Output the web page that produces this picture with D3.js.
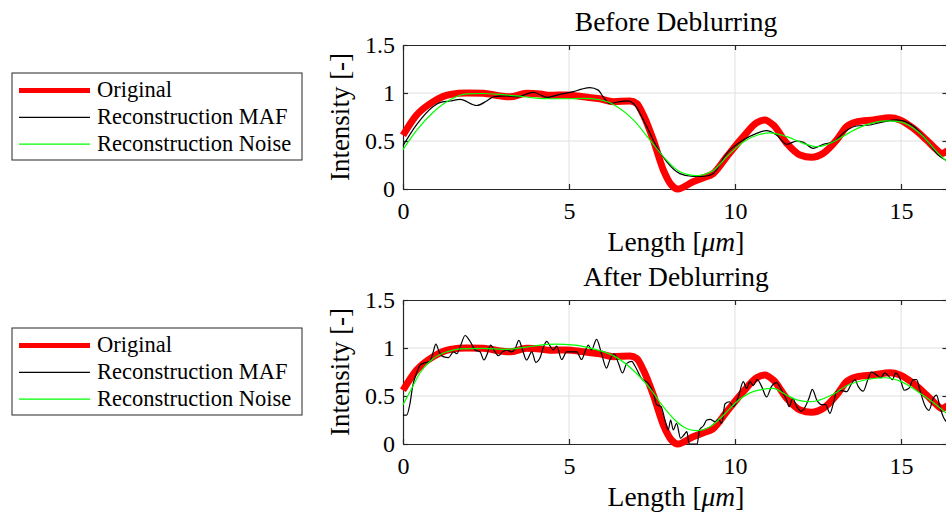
<!DOCTYPE html>
<html>
<head>
<meta charset="utf-8">
<script src="https://cdn.jsdelivr.net/npm/d3@7"></script>
<style>
  body { margin: 0; background: #fff; }
  svg { display: block; }
  text { font-family: "Liberation Serif", "Times New Roman", serif; fill: #000; }
</style>
</head>
<body>
<div id="chart"></div>
<script>
// intensity profiles, x in micrometres
var origX = [0, 0.41, 0.91, 1.42, 1.92, 2.42, 2.92, 3.22, 3.72, 4.13, 4.43, 4.93, 5.43, 5.93, 6.33, 6.84, 7.04, 7.24, 7.54, 7.84, 8.09, 8.27, 8.74, 9.05, 9.34, 9.75, 10.25, 10.65, 10.9, 11.15, 11.56, 11.96, 12.3, 12.66, 13.06, 13.36, 13.66, 14.17, 14.67, 14.97, 15.37, 15.77, 16.07, 16.22, 16.4];
var origY = [0.56, 0.77, 0.91, 0.985, 1.0, 0.997, 0.97, 0.96, 0.997, 0.99, 0.976, 0.98, 0.96, 0.94, 0.91, 0.917, 0.89, 0.77, 0.51, 0.2, 0.04, 0.0, 0.076, 0.118, 0.16, 0.336, 0.545, 0.69, 0.72, 0.667, 0.476, 0.354, 0.33, 0.372, 0.51, 0.649, 0.70, 0.72, 0.743, 0.72, 0.632, 0.51, 0.41, 0.37, 0.4];

// before deblurring
var mafBeforeX = [0, 0.41, 0.91, 1.11, 1.42, 1.72, 2.22, 2.52, 2.72, 3.12, 3.42, 3.93, 4.33, 4.73, 5.13, 5.38, 5.63, 5.88, 6.03, 6.23, 6.54, 6.79, 6.94, 7.34, 7.64, 7.94, 8.34, 8.74, 9.05, 9.34, 9.75, 10.25, 10.65, 10.95, 11.25, 11.56, 11.86, 12.06, 12.36, 12.66, 12.96, 13.36, 13.66, 14.07, 14.47, 14.87, 15.37, 15.77, 16.12, 16.4];
var mafBeforeY = [0.45, 0.67, 0.86, 0.90, 0.917, 0.934, 0.87, 0.917, 0.96, 0.97, 0.96, 1.007, 0.955, 0.986, 1.014, 1.04, 1.056, 1.03, 0.96, 0.89, 0.91, 0.917, 0.89, 0.65, 0.44, 0.285, 0.16, 0.13, 0.13, 0.16, 0.37, 0.51, 0.58, 0.608, 0.563, 0.466, 0.50, 0.486, 0.424, 0.466, 0.49, 0.61, 0.656, 0.667, 0.70, 0.72, 0.656, 0.51, 0.354, 0.29];
var noiseBeforeX = [0, 0.41, 0.91, 1.42, 1.92, 2.42, 2.92, 3.42, 3.93, 4.43, 4.93, 5.43, 5.93, 6.44, 6.94, 7.44, 7.94, 8.34, 8.85, 9.34, 9.75, 10.25, 10.75, 11.05, 11.56, 12.06, 12.46, 12.96, 13.46, 13.96, 14.57, 14.97, 15.57, 16.07, 16.4];
var noiseBeforeY = [0.41, 0.61, 0.80, 0.93, 0.99, 0.995, 0.985, 0.97, 0.95, 0.94, 0.94, 0.944, 0.93, 0.86, 0.72, 0.51, 0.30, 0.18, 0.14, 0.19, 0.336, 0.49, 0.57, 0.585, 0.545, 0.476, 0.44, 0.49, 0.59, 0.67, 0.71, 0.70, 0.58, 0.39, 0.28];

// after deblurring
var mafAfterX = [0, 0.11, 0.21, 0.29, 0.41, 0.51, 0.61, 0.71, 0.81, 0.91, 0.99, 1.09, 1.21, 1.37, 1.52, 1.62, 1.74, 1.87, 2.02, 2.17, 2.32, 2.44, 2.54, 2.64, 2.77, 2.87, 3.0, 3.12, 3.27, 3.37, 3.49, 3.6, 3.72, 3.88, 4.0, 4.13, 4.23, 4.33, 4.43, 4.53, 4.63, 4.78, 4.93, 5.08, 5.23, 5.38, 5.48, 5.58, 5.68, 5.83, 5.98, 6.13, 6.23, 6.36, 6.49, 6.61, 6.74, 6.89, 6.99, 7.19, 7.39, 7.54, 7.64, 7.77, 7.89, 7.99, 8.06, 8.14, 8.24, 8.36, 8.46, 8.55, 8.62, 8.86, 8.93, 9.05, 9.15, 9.25, 9.4, 9.5, 9.6, 9.7, 9.83, 9.95, 10.1, 10.25, 10.35, 10.45, 10.55, 10.67, 10.8, 10.95, 11.1, 11.25, 11.4, 11.55, 11.63, 11.74, 11.86, 12.0, 12.12, 12.23, 12.33, 12.46, 12.61, 12.73, 12.86, 12.96, 13.06, 13.21, 13.36, 13.51, 13.61, 13.71, 13.86, 14.01, 14.11, 14.26, 14.39, 14.51, 14.62, 14.74, 14.84, 14.97, 15.1, 15.24, 15.37, 15.47, 15.57, 15.72, 15.84, 15.97, 16.07, 16.17, 16.27, 16.4];
var mafAfterY = [0.30, 0.30, 0.42, 0.60, 0.74, 0.82, 0.84, 0.85, 0.86, 0.96, 1.04, 0.96, 0.91, 0.90, 0.96, 0.94, 1.03, 1.13, 1.07, 0.98, 0.96, 0.875, 0.94, 1.03, 0.96, 0.92, 0.96, 0.98, 0.96, 0.985, 1.08, 0.98, 0.875, 0.96, 0.85, 0.90, 1.01, 1.07, 1.02, 0.98, 1.02, 0.88, 0.96, 0.96, 0.96, 0.88, 0.96, 1.03, 0.98, 1.09, 0.94, 0.79, 0.875, 0.94, 0.84, 0.74, 0.84, 0.86, 0.81, 0.68, 0.63, 0.53, 0.41, 0.39, 0.25, 0.146, 0.25, 0.146, 0.215, 0.06, 0.094, 0.128, 0.0, 0.0, 0.146, 0.19, 0.25, 0.257, 0.233, 0.257, 0.215, 0.42, 0.44, 0.39, 0.49, 0.65, 0.58, 0.65, 0.61, 0.67, 0.60, 0.49, 0.60, 0.64, 0.56, 0.46, 0.39, 0.475, 0.39, 0.34, 0.39, 0.48, 0.57, 0.46, 0.41, 0.41, 0.32, 0.42, 0.545, 0.555, 0.545, 0.63, 0.67, 0.60, 0.55, 0.68, 0.75, 0.72, 0.69, 0.74, 0.71, 0.67, 0.74, 0.68, 0.56, 0.58, 0.67, 0.67, 0.56, 0.40, 0.35, 0.475, 0.51, 0.39, 0.285, 0.22];
var noiseAfterX = [0, 0.21, 0.51, 0.91, 1.32, 1.72, 2.42, 3.12, 3.72, 4.13, 4.58, 5.18, 5.78, 6.39, 6.99, 7.39, 7.79, 8.19, 8.44, 8.85, 9.25, 9.65, 10.05, 10.55, 11.15, 11.55, 11.86, 12.3, 12.91, 13.41, 13.91, 14.51, 15.01, 15.51, 16.02, 16.4];
var noiseAfterY = [0.41, 0.545, 0.74, 0.89, 0.96, 0.99, 0.997, 0.986, 1.01, 1.03, 1.04, 1.03, 0.986, 0.91, 0.75, 0.60, 0.41, 0.25, 0.18, 0.139, 0.18, 0.30, 0.44, 0.545, 0.58, 0.51, 0.46, 0.44, 0.51, 0.615, 0.667, 0.69, 0.65, 0.545, 0.42, 0.31];

var xTicks = [0, 5, 10, 15];
var yTicks = [0, 0.5, 1, 1.5];
var legendLabels = ["Original", "Reconstruction MAF", "Reconstruction Noise"];
var titles = ["Before Deblurring", "After Deblurring"];

var width = 946, height = 515;
var svg = d3.select("#chart").append("svg")
  .attr("width", width)
  .attr("height", height);

var x = d3.scaleLinear().domain([0, 16.4]).range([403, 947.5]);

function zip(xs, ys){
  var out = [];
  for(var i = 0; i < xs.length; i++) out.push([xs[i], ys[i]]);
  return out;
}

var panels = [
  {top: 45, bottom: 189, maf: zip(mafBeforeX, mafBeforeY), noise: zip(noiseBeforeX, noiseBeforeY), title: titles[0]},
  {top: 300, bottom: 444, maf: zip(mafAfterX, mafAfterY), noise: zip(noiseAfterX, noiseAfterY), title: titles[1]}
];
var original = zip(origX, origY);
var axisColor = "#262626";

panels.forEach(function(p, k){
  var y = d3.scaleLinear().domain([0, 1.5]).range([p.bottom, p.top]);
  var g = svg.append("g");

  // grid
  g.selectAll(".gx").data(xTicks.slice(1)).enter().append("line")
    .attr("x1", d => x(d)).attr("x2", d => x(d))
    .attr("y1", p.top).attr("y2", p.bottom)
    .attr("stroke", "#dfdfdf").attr("stroke-width", 1);
  g.selectAll(".gy").data([0.5, 1]).enter().append("line")
    .attr("x1", x.range()[0]).attr("x2", x.range()[1])
    .attr("y1", d => y(d)).attr("y2", d => y(d))
    .attr("stroke", "#dfdfdf").attr("stroke-width", 1);

  // axes box with inward ticks
  var ax = [
    g.append("g").attr("transform", "translate(0," + p.bottom + ")")
      .call(d3.axisBottom(x).tickValues(xTicks).tickSizeInner(-5).tickSizeOuter(0).tickPadding(13)),
    g.append("g").attr("transform", "translate(0," + p.top + ")")
      .call(d3.axisTop(x).tickValues(xTicks).tickSizeInner(-5).tickSizeOuter(0).tickFormat("")),
    g.append("g").attr("transform", "translate(" + x.range()[0] + ",0)")
      .call(d3.axisLeft(y).tickValues(yTicks).tickSizeInner(-5).tickSizeOuter(0).tickPadding(8).tickFormat(d3.format("~g"))),
    g.append("g").attr("transform", "translate(" + x.range()[1] + ",0)")
      .call(d3.axisRight(y).tickValues(yTicks).tickSizeInner(-5).tickSizeOuter(0).tickFormat(""))
  ];
  ax.forEach(function(a){
    a.select(".domain").attr("stroke", axisColor).attr("stroke-width", 1.2);
    a.selectAll(".tick line").attr("stroke", axisColor).attr("stroke-width", 1.2);
    a.selectAll("text").attr("font-family", "Liberation Serif").attr("font-size", 24).attr("fill", "#000");
  });

  var line = d3.line()
    .x(d => x(d[0]))
    .y(d => y(d[1]))
    .curve(d3.curveMonotoneX);

  g.append("path").datum(original)
    .attr("fill", "none").attr("stroke", "#ff0000").attr("stroke-width", 7)
    .attr("stroke-linejoin", "round").attr("d", line);
  g.append("path").datum(p.maf)
    .attr("fill", "none").attr("stroke", "#000").attr("stroke-width", 1.2)
    .attr("d", line);
  g.append("path").datum(p.noise)
    .attr("fill", "none").attr("stroke", "#00ff00").attr("stroke-width", 1.2)
    .attr("d", line);

  // title and axis labels
  g.append("text")
    .attr("x", 676).attr("y", p.top - 14)
    .attr("text-anchor", "middle").attr("font-size", 27.5)
    .text(p.title);

  var xl = g.append("text")
    .attr("x", 676).attr("y", p.bottom + 62)
    .attr("text-anchor", "middle").attr("font-size", 27.5);
  xl.append("tspan").text("Length [");
  xl.append("tspan").attr("font-style", "italic").text("\u03BCm");
  xl.append("tspan").text("]");

  g.append("text")
    .attr("transform", "translate(349," + (p.top + p.bottom) / 2 + ") rotate(-90)")
    .attr("text-anchor", "middle").attr("font-size", 27)
    .text("Intensity [-]");

  // legend
  var ly = p.top + 28;
  var lg = g.append("g");
  lg.append("rect")
    .attr("x", 12).attr("y", ly).attr("width", 290).attr("height", 87)
    .attr("fill", "#fff").attr("stroke", axisColor).attr("stroke-width", 1);
  var styles = [["#ff0000", 5], ["#000", 1.2], ["#00ff00", 1.2]];
  legendLabels.forEach(function(lab, i){
    var yy = ly + 17.5 + i * 26.8;
    lg.append("line")
      .attr("x1", 19).attr("x2", 90).attr("y1", yy).attr("y2", yy)
      .attr("stroke", styles[i][0]).attr("stroke-width", styles[i][1]);
    lg.append("text")
      .attr("x", 97).attr("y", yy + 6.5)
      .attr("font-size", 22.5)
      .text(lab);
  });
});
</script>
</body>
</html>
